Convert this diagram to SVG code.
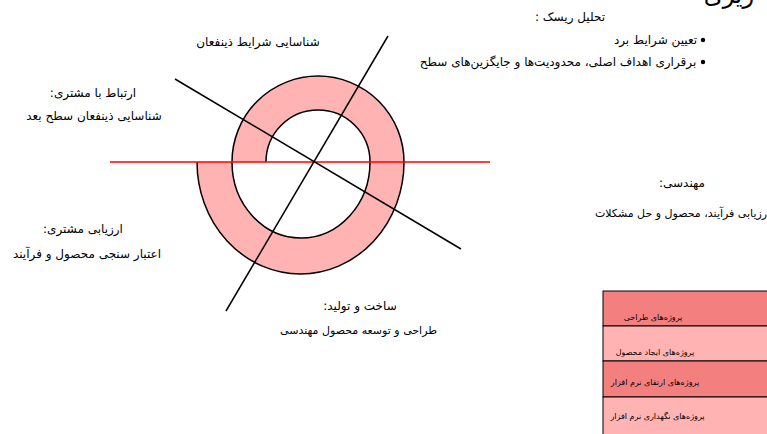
<svg xmlns="http://www.w3.org/2000/svg" width="767" height="434" viewBox="0 0 767 434">
<style>
text{font-family:"DejaVu Sans",sans-serif;fill:#000;text-anchor:middle;direction:rtl;unicode-bidi:embed}
.t{font-size:12px}
.m{font-size:11px}
.s{font-size:8px}
.band{fill:#ffb3b3;stroke:none}
.ln{stroke:#000;stroke-width:1.5;fill:none}
.dark{fill:#f47f7f;stroke:#000;stroke-width:1}
.light{fill:#ffb3b3;stroke:#000;stroke-width:1}
</style>
<rect width="767" height="434" fill="#fff"/>
<text x="729" y="3" style="font-size:24px">ریزی</text>
<g id="spiral">
<path class="band" d="M232,162 A86,86 0 0 1 404,162 L370,162 A52,52 0 0 0 266,162 Z"/>
<path class="band" d="M404,162 A103.5,112 0 0 1 197,162 L232,162 A69,76 0 0 0 370,162 Z"/>
<path class="ln" d="M266,162 A52,52 0 0 1 370,162 A69,76 0 0 1 232,162 A86,86 0 0 1 404,162 A103.5,112 0 0 1 197,162"/>
</g>
<g id="connectors">
<line x1="110" y1="162" x2="490" y2="162" stroke="#ff0000" stroke-width="1.5"/>
<line x1="175" y1="79" x2="461" y2="249" class="ln"/>
<line x1="388" y1="36" x2="226" y2="311" class="ln"/>
</g>
<g id="risk">
<text class="t" x="570" y="21">تحلیل ریسک :</text>
<circle cx="703" cy="40" r="2.2"/>
<text class="t" x="655.5" y="44">تعیین شرایط برد</text>
<circle cx="703" cy="62" r="2.2"/>
<text class="t" x="558" y="66">برقراری اهداف اصلی، محدودیت‌ها و جایگزین‌های سطح</text>
</g>
<g id="stakeholders"><text class="t" x="258" y="46">شناسایی شرایط ذینفعان</text></g>
<g id="customer-comm">
<text class="t" x="93" y="97">ارتباط با مشتری:</text>
<text class="t" x="94" y="120">شناسایی ذینفعان سطح بعد</text>
</g>
<g id="customer-eval">
<text class="t" x="83" y="233">ارزیابی مشتری:</text>
<text class="t" x="87" y="258">اعتبار سنجی محصول و فرآیند</text>
</g>
<g id="engineering">
<text class="t" x="682" y="187">مهندسی:</text>
<text class="m" x="681" y="217">رزیابی فرآیند، محصول و حل مشکلات</text>
</g>
<g id="construction">
<text class="t" x="360" y="310">ساخت و تولید:</text>
<text class="m" x="358.5" y="334">طراحی و توسعه محصول مهندسی</text>
</g>
<g id="projects">
<rect class="dark" x="603" y="291" width="170" height="35"/>
<rect class="light" x="603" y="326" width="170" height="35"/>
<rect class="dark" x="603" y="361" width="170" height="36"/>
<rect class="light" x="603" y="397" width="170" height="45"/>
<text class="s" x="653" y="320">پروژه‌های طراحی</text>
<text class="s" x="655" y="355">پروژه‌های ایجاد محصول</text>
<text class="s" x="655" y="385">پروژه‌های ارتقای نرم افزار</text>
<text class="s" x="657.5" y="419">پروژه‌های نگهداری نرم افزار</text>
</g>
</svg>
